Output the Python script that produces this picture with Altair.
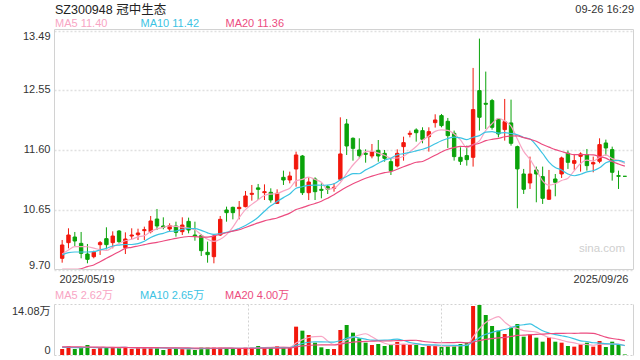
import altair as alt
import pandas as pd

FONT = "Liberation Sans, Arial, Noto Sans CJK SC, sans-serif"
RED = "#f2170c"
GREEN = "#0aa30a"
C_MA5 = "#f8a5c4"
C_MA10 = "#3cc3e3"
C_MA20 = "#ec4c80"
FRAME = "#d2d2d2"
GRID = "#e0e0e0"

title_text = ["SZ300948 冠中生态"]
time_text = ["09-26 16:29"]
price_ma_labels = ["MA5 11.40", "MA10 11.42", "MA20 11.36"]
vol_ma_labels = ["MA5 2.62万", "MA10 2.65万", "MA20 4.00万"]
date_labels = ["2025/05/19", "2025/09/26"]
price_ticks = [9.70, 10.65, 11.60, 12.55, 13.49]
vol_ticks = [0, 14.08]
watermark = ["sina.com"]

opens = [9.885, 10.133, 10.222, 10.122, 9.953, 9.911, 10.101, 10.196, 10.133, 10.317,
         10.054, 10.238, 10.259, 10.323, 10.307, 10.507, 10.397, 10.349, 10.397, 10.307,
         10.470, 10.254, 10.244, 9.980, 9.911, 10.254, 10.650, 10.692, 10.671, 10.703,
         10.898, 11.000, 10.924, 10.930, 10.755, 11.167, 11.125, 11.299, 11.505, 10.924,
         11.141, 10.977, 11.019, 10.993, 11.136, 12.012, 11.785, 11.600, 11.547, 11.505,
         11.595, 11.547, 11.415, 11.347, 11.653, 11.848, 11.917, 11.906, 11.811, 12.033,
         12.144, 12.054, 11.864, 11.484, 11.511, 11.484, 12.540, 12.339, 12.382, 12.091,
         11.922, 12.028, 11.653, 11.220, 11.078, 11.284, 11.178, 10.820, 11.141, 11.220,
         11.548, 11.389, 11.500, 11.527, 11.379, 11.421, 11.711, 11.606, 11.194, 11.183]
closes = [10.096, 10.254, 10.159, 9.964, 9.869, 9.980, 10.133, 10.101, 10.238, 10.149,
          10.191, 10.254, 10.286, 10.339, 10.476, 10.397, 10.376, 10.402, 10.296, 10.412,
          10.333, 10.238, 10.006, 9.943, 10.238, 10.502, 10.608, 10.608, 10.692, 10.872,
          10.914, 10.977, 10.940, 10.808, 10.914, 11.125, 11.188, 11.521, 10.924, 11.093,
          10.940, 10.961, 10.977, 11.009, 11.537, 11.663, 11.626, 11.510, 11.531, 11.574,
          11.505, 11.468, 11.273, 11.547, 11.716, 11.864, 11.874, 11.769, 11.890, 12.075,
          11.986, 11.827, 11.495, 11.421, 11.447, 12.239, 12.118, 12.324, 11.959, 11.854,
          12.049, 11.706, 11.300, 10.978, 11.220, 11.220, 10.835, 10.967, 11.088, 11.474,
          11.405, 11.432, 11.537, 11.352, 11.400, 11.685, 11.632, 11.247, 11.183, 11.183]
highs = [10.175, 10.360, 10.302, 10.302, 10.112, 10.006, 10.159, 10.376, 10.312, 10.333,
         10.296, 10.360, 10.354, 10.386, 10.555, 10.666, 10.534, 10.439, 10.465, 10.534,
         10.529, 10.465, 10.270, 10.149, 10.270, 10.555, 10.703, 10.703, 10.792, 10.951,
         11.046, 11.062, 11.056, 10.993, 10.977, 11.273, 11.257, 11.574, 11.521, 11.167,
         11.167, 11.072, 11.046, 11.072, 12.117, 12.091, 11.800, 11.785, 11.610, 11.695,
         11.758, 11.600, 11.468, 11.610, 11.811, 11.906, 11.943, 11.959, 11.959, 12.165,
         12.170, 12.107, 11.907, 11.643, 11.669, 12.899, 13.363, 12.841, 12.408, 12.107,
         12.408, 12.397, 11.669, 11.300, 11.495, 11.337, 11.337, 11.284, 11.220, 11.495,
         11.590, 11.537, 11.563, 11.616, 11.495, 11.785, 11.764, 11.653, 11.273, 11.183]
lows = [9.816, 10.043, 10.080, 9.885, 9.806, 9.885, 9.938, 10.027, 10.043, 10.122,
        9.953, 10.186, 10.175, 10.175, 10.280, 10.333, 10.344, 10.312, 10.228, 10.254,
        10.280, 10.164, 9.922, 9.816, 9.806, 10.238, 10.465, 10.502, 10.502, 10.692,
        10.798, 10.808, 10.808, 10.766, 10.745, 11.046, 11.072, 11.019, 10.887, 10.808,
        10.808, 10.835, 10.903, 10.940, 11.114, 11.521, 11.431, 11.468, 11.399, 11.468,
        11.415, 11.415, 11.204, 11.325, 11.431, 11.800, 11.732, 11.706, 11.574, 11.954,
        11.959, 11.632, 11.432, 11.363, 11.352, 11.337, 11.907, 11.933, 11.922, 11.801,
        11.748, 11.669, 10.677, 10.904, 10.983, 10.772, 10.746, 10.809, 10.867, 11.157,
        11.300, 11.284, 11.257, 11.273, 11.247, 11.390, 11.511, 11.115, 10.983, 11.183]
# volume, in 万
volumes = [1.69, 2.53, 1.69, 2.16, 2.82, 1.69, 2.07, 2.16, 2.16, 2.07,
           2.16, 1.69, 2.07, 2.07, 2.07, 2.16, 1.41, 1.69, 1.88, 1.78,
           1.78, 1.41, 2.07, 2.07, 2.07, 2.07, 1.88, 1.69, 1.69, 2.07,
           2.07, 2.53, 2.07, 2.07, 2.53, 2.16, 2.07, 7.98, 6.85, 5.63,
           3.47, 2.16, 1.69, 1.69, 7.04, 8.45, 6.29, 4.69, 3.47, 2.82,
           3.10, 2.53, 2.82, 3.66, 3.10, 2.82, 2.82, 2.25, 2.63, 2.63,
           2.25, 2.53, 2.53, 3.10, 3.47, 13.80, 14.08, 11.26, 8.17, 6.85,
           5.91, 7.70, 8.73, 5.16, 5.82, 4.88, 3.75, 4.98, 3.75, 3.47,
           2.53, 2.35, 3.00, 3.47, 2.35, 3.94, 2.25, 3.75, 3.00, 0.16]

ma5_lead = [9.953, 10.017, 10.069, 10.069]
ma10_lead = [9.938, 9.974, 9.985, 9.985, 9.985, 9.990, 10.017, 10.043, 10.080]
ma20_lead = [9.710, 9.710, 9.710, 9.720, 9.753, 9.780, 9.832, 9.885, 9.938, 9.990,
             10.043, 10.059, 10.080, 10.101, 10.122, 10.138, 10.159, 10.180, 10.201]
vma5_lead = [2.25, 2.20, 2.15, 2.10]
vma10_lead = [2.15, 2.12, 2.10, 2.10, 2.12, 2.10, 2.08, 2.10, 2.10]
vma20_lead = [2.30, 2.30, 2.28, 2.26, 2.24, 2.22, 2.20, 2.18, 2.16, 2.14,
              2.12, 2.10, 2.09, 2.08, 2.06, 2.05, 2.04, 2.03, 2.02]


def moving(vals, n, lead):
    s = pd.Series(vals, dtype=float).rolling(n).mean()
    s.iloc[: n - 1] = lead
    return s


N = len(closes)
df = pd.DataFrame({"i": list(range(N)), "o": opens, "c": closes, "h": highs,
                   "l": lows, "v": volumes})
df["ma5"] = moving(closes, 5, ma5_lead)
df["ma10"] = moving(closes, 10, ma10_lead)
df["ma20"] = moving(closes, 20, ma20_lead)
df["vma5"] = moving(volumes, 5, vma5_lead)
df["vma10"] = moving(volumes, 10, vma10_lead)
df["vma20"] = moving(volumes, 20, vma20_lead)

W, H = 579, 326
base = alt.Chart(df)
xs = alt.Scale(domain=[-0.5, N - 0.5], nice=False, zero=False)
X_AXIS = alt.Axis(
    values=[-0.5, N - 0.5],
    labelExpr=f"datum.value < 0 ? '{date_labels[0]}' : '{date_labels[1]}'",
    labelAlign=alt.condition("datum.value < 0", alt.value("left"), alt.value("right")),
    labelFlush=False, ticks=False, domain=False, grid=False, offset=-85,
    labelPadding=3, labelFontSize=11, labelColor="#333", labelFont=FONT, title=None)
X = alt.X("i:Q", scale=xs, axis=X_AXIS)
col = alt.condition("datum.c > datum.o", alt.value(RED), alt.value(GREEN))

ys_p = alt.Scale(domain=[9.70, 13.49], range=[241, 1.6], nice=False, zero=False)
YP_AX = alt.Axis(values=price_ticks, format=".2f", labelFlush=True, ticks=False,
                 domain=False, grid=True, gridColor=GRID, gridDash=[2, 2], gridWidth=1.5,
                 labelPadding=4, title=None, orient="left", labelColor="#333",
                 labelFontSize=11, labelFont=FONT)

wick = base.mark_rule(strokeWidth=1).encode(
    x=X, y=alt.Y("l:Q", scale=ys_p, axis=YP_AX), y2="h:Q", color=col)
body = base.mark_bar(size=3.4, strokeWidth=1).encode(
    x=X, y=alt.Y("o:Q", scale=ys_p, axis=YP_AX), y2="c:Q", color=col, stroke=col)


def line(field, colr, ys, ax):
    return base.mark_line(strokeWidth=1.2, interpolate="monotone").encode(
        x=X, y=alt.Y(f"{field}:Q", scale=ys, axis=ax), color=alt.value(colr))


price = alt.layer(wick, body, line("ma5", C_MA5, ys_p, YP_AX),
                  line("ma10", C_MA10, ys_p, YP_AX), line("ma20", C_MA20, ys_p, YP_AX))

ys_v = alt.Scale(domain=[0, vol_ticks[1]], range=[326, 276], nice=False, zero=True)
YV_AX = alt.Axis(values=vol_ticks,
                 labelExpr="datum.value == 0 ? '0' : format(datum.value, '.2f') + '万'",
                 labelFlush=True, ticks=False, domain=False, grid=False, labelPadding=4,
                 title=None, orient="left", labelColor="#333", labelFontSize=11,
                 labelFont=FONT)
vbar = base.mark_bar(size=4).encode(
    x=X, y=alt.Y("v:Q", scale=ys_v, axis=YV_AX), color=col)
vol = alt.layer(vbar, line("vma5", C_MA5, ys_v, YV_AX), line("vma10", C_MA10, ys_v, YV_AX),
                line("vma20", C_MA20, ys_v, YV_AX))

one = pd.DataFrame({"k": [0]})
frame = alt.Chart(one).mark_rect(fillOpacity=0, stroke=FRAME, strokeWidth=1).encode(
    x=alt.value(0.5), x2=alt.value(W + 0.5), y=alt.value(0.5), y2=alt.value(240.5))


def rule(x, x2, y, y2, dash=None):
    kw = dict(color=FRAME, strokeWidth=1)
    if dash:
        kw["strokeDash"] = dash
    return alt.Chart(one).mark_rule(**kw).encode(
        x=alt.value(x), x2=alt.value(x2), y=alt.value(y), y2=alt.value(y2))


vframe = [
    rule(0.5, 0.5, 275.5, 326.5),
    rule(W + 0.5, W + 0.5, 275.5, 326.5),
    rule(0.5, W + 0.5, 275.5, 275.5, [2, 2]),
    rule(0.5, W + 0.5, 326.5, 326.5, [2, 2]),
    rule(194.5, 194.5, 275.5, 326.5, [2, 2]),
    rule(387.5, 387.5, 275.5, 326.5, [2, 2]),
]


def label(texts, k, x, y, colr, size, align="left"):
    return alt.Chart(pd.DataFrame({"t": [texts[k]]})).mark_text(
        align=align, baseline="middle", fontSize=size, font=FONT, color=colr).encode(
        x=alt.value(x), y=alt.value(y), text="t:N")


texts = [
    label(title_text, 0, 1, -19, "#222", 12.5),
    label(time_text, 0, W + 1, -19, "#333", 11, align="right"),
    label(price_ma_labels, 0, 1, -5, C_MA5, 11),
    label(price_ma_labels, 1, 86.5, -5, C_MA10, 11),
    label(price_ma_labels, 2, 171.5, -5, C_MA20, 11),
    label(vol_ma_labels, 0, 1, 266.5, C_MA5, 11),
    label(vol_ma_labels, 1, 86, 266.5, C_MA10, 11),
    label(vol_ma_labels, 2, 171, 266.5, C_MA20, 11),
    label(watermark, 0, 548, 220, "#cfcfcf", 11.5, align="center"),
]

chart = alt.layer(price, vol, frame, *vframe, *texts).resolve_scale(
    y="independent").properties(
    width=W, height=H,
    autosize=alt.AutoSizeParams(type="none"),
    padding={"left": 54, "top": 29, "right": 7, "bottom": 5},
).configure_view(stroke=None)

chart.save("out.html", embed_options={"renderer": "svg", "actions": False})
